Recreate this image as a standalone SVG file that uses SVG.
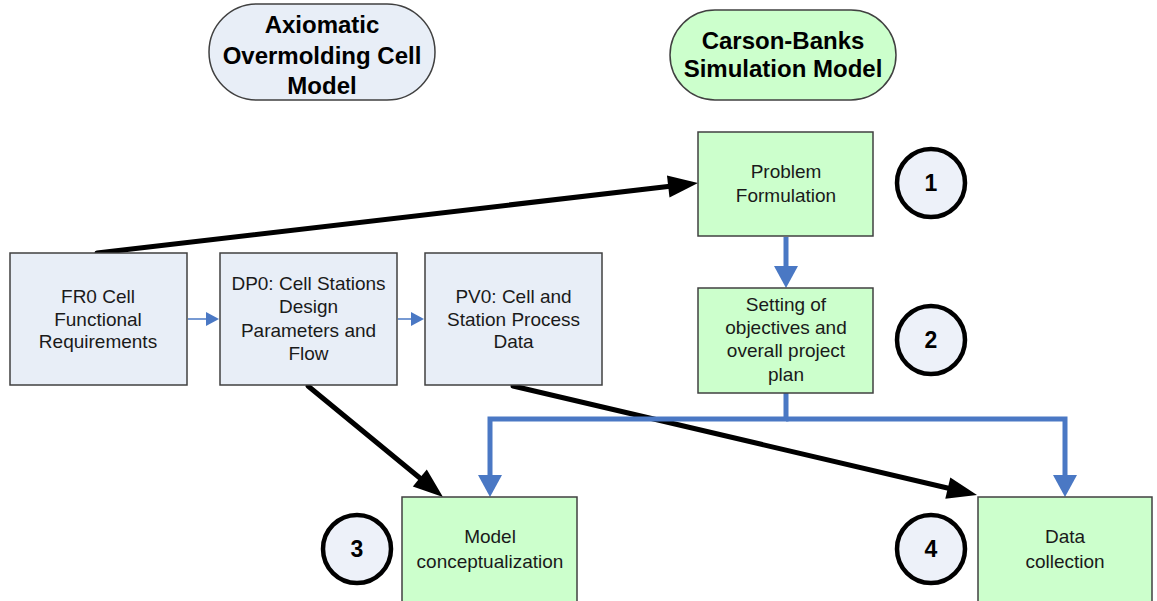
<svg xmlns="http://www.w3.org/2000/svg" width="1157" height="601" viewBox="0 0 1157 601">
<style>
.t{font-family:"Liberation Sans",Arial,sans-serif;font-size:19px;fill:#1a1a1a;text-anchor:middle}
.h{font-family:"Liberation Sans",Arial,sans-serif;font-size:24px;font-weight:bold;fill:#000;text-anchor:middle}
.n{font-family:"Liberation Sans",Arial,sans-serif;font-size:23px;font-weight:bold;fill:#000;text-anchor:middle}
.bb{fill:#E8EEF7;stroke:#404040;stroke-width:1.5}
.gb{fill:#CCFFCC;stroke:#404040;stroke-width:1.5}
.c{fill:#EDF1F9;stroke:#000;stroke-width:4.5}
.k{fill:none;stroke:#000;stroke-width:5;stroke-linecap:round}
.b{fill:none;stroke:#4A78C4;stroke-width:5;stroke-linejoin:miter}
.s{fill:none;stroke:#4A78C4;stroke-width:1.5}
</style>
<defs>
<marker id="ak" markerUnits="userSpaceOnUse" markerWidth="30" markerHeight="22" refX="4" refY="11" orient="auto" overflow="visible"><path d="M0,0 L30,11 L0,22 z" fill="#000"/></marker>
<marker id="ab" markerUnits="userSpaceOnUse" markerWidth="22" markerHeight="24" refX="3" refY="12" orient="auto" overflow="visible"><path d="M0,0 L22,12 L0,24 z" fill="#4A78C4"/></marker>
<marker id="as" markerUnits="userSpaceOnUse" markerWidth="13" markerHeight="14" refX="1" refY="7" orient="auto" overflow="visible"><path d="M0,0 L13,7 L0,14 z" fill="#4A78C4"/></marker>
</defs>

<g id="axiomatic-title">
<rect x="209" y="4" width="226" height="96" rx="48" ry="48" fill="#E8EEF7" stroke="#404040" stroke-width="1.5"/>
<text class="h" x="322" y="33">Axiomatic</text>
<text class="h" x="322" y="64">Overmolding Cell</text>
<text class="h" x="322" y="94">Model</text>
</g>
<g id="carson-title">
<rect x="670" y="10" width="226" height="90" rx="45" ry="45" fill="#CCFFCC" stroke="#404040" stroke-width="1.5"/>
<text class="h" x="783" y="49">Carson-Banks</text>
<text class="h" x="783" y="77">Simulation Model</text>
</g>

<g id="connectors">
<line class="s" x1="188" y1="319" x2="207" y2="319" marker-end="url(#as)"/>
<line class="s" x1="398" y1="319" x2="412" y2="319" marker-end="url(#as)"/>
<line class="k" x1="97" y1="253" x2="672.2" y2="186" marker-end="url(#ak)"/>
<line class="k" x1="308" y1="386" x2="422.9" y2="480.5" marker-end="url(#ak)"/>
<line class="k" x1="513" y1="386" x2="951.7" y2="489" marker-end="url(#ak)"/>
<line class="b" x1="786" y1="237" x2="786" y2="269" marker-end="url(#ab)"/>
<path class="b" d="M786,393 V419 H490 V478" marker-end="url(#ab)"/>
<path class="b" d="M786,419 H1065 V478" marker-end="url(#ab)"/>
</g>

<g id="fr0">
<rect class="bb" x="10" y="253" width="177" height="132"/>
<text class="t" x="98" y="303">FR0 Cell</text>
<text class="t" x="98" y="326">Functional</text>
<text class="t" x="98" y="348">Requirements</text>
</g>
<g id="dp0">
<rect class="bb" x="220" y="253" width="177" height="132"/>
<text class="t" x="308.5" y="290">DP0: Cell Stations</text>
<text class="t" x="308.5" y="313">Design</text>
<text class="t" x="308.5" y="337">Parameters and</text>
<text class="t" x="308.5" y="360">Flow</text>
</g>
<g id="pv0">
<rect class="bb" x="425" y="253" width="177" height="132"/>
<text class="t" x="513.5" y="303">PV0: Cell and</text>
<text class="t" x="513.5" y="326">Station Process</text>
<text class="t" x="513.5" y="348">Data</text>
</g>
<g id="problem-formulation">
<rect class="gb" x="698" y="132" width="175" height="104"/>
<text class="t" x="786" y="178">Problem</text>
<text class="t" x="786" y="202">Formulation</text>
</g>
<g id="objectives">
<rect class="gb" x="698" y="288" width="175" height="105"/>
<text class="t" x="786" y="311">Setting of</text>
<text class="t" x="786" y="334">objectives and</text>
<text class="t" x="786" y="357">overall project</text>
<text class="t" x="786" y="381">plan</text>
</g>
<g id="model-conceptualization">
<rect class="gb" x="402" y="497" width="175" height="110"/>
<text class="t" x="490" y="543">Model</text>
<text class="t" x="490" y="568">conceptualization</text>
</g>
<g id="data-collection">
<rect class="gb" x="978" y="497" width="174" height="110"/>
<text class="t" x="1065" y="543">Data</text>
<text class="t" x="1065" y="568">collection</text>
</g>
<g id="step1"><circle class="c" cx="931" cy="183" r="34"/><text class="n" x="931" y="191">1</text></g>
<g id="step2"><circle class="c" cx="931" cy="340" r="34"/><text class="n" x="931" y="348">2</text></g>
<g id="step3"><circle class="c" cx="357" cy="549" r="34"/><text class="n" x="357" y="557">3</text></g>
<g id="step4"><circle class="c" cx="931" cy="549" r="34"/><text class="n" x="931" y="557">4</text></g>
</svg>
